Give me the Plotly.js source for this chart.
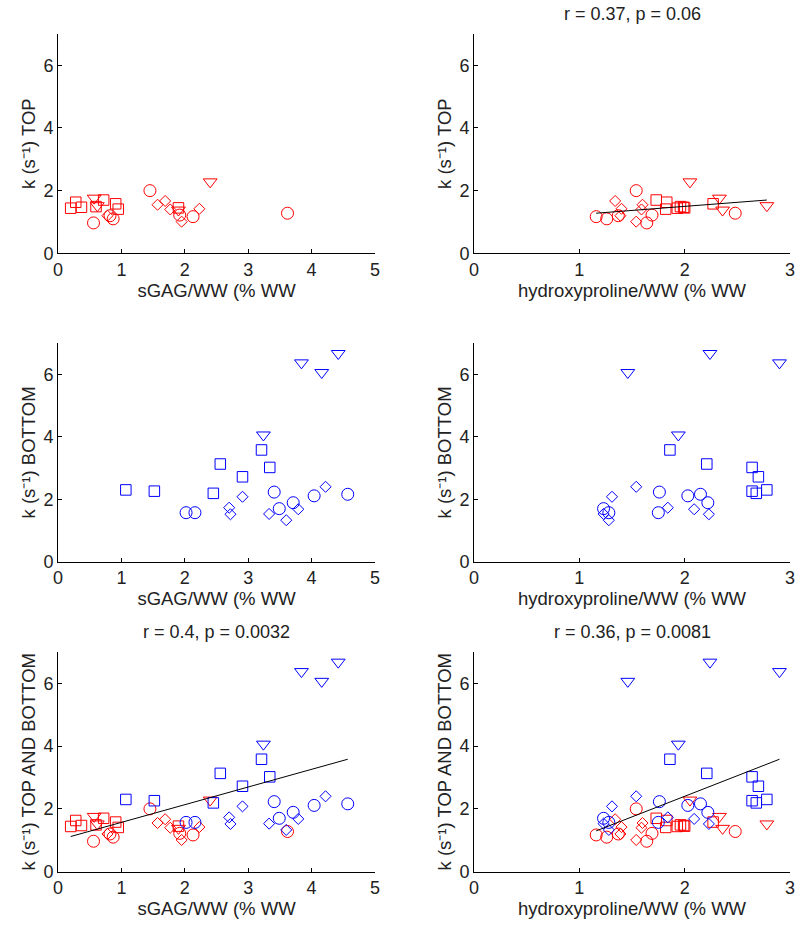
<!DOCTYPE html>
<html>
<head>
<meta charset="utf-8">
<script src="https://cdn.plot.ly/plotly-3.0.1.min.js"></script>
<style>html,body{margin:0;padding:0;background:#fff;}#chart{width:800px;height:932px;}</style>
</head>
<body>
<div id="chart"></div>
<script>
// ---------------- DATA ----------------
// TOP layer (red)
const topCircle_k    = [0.97, 2.00, 1.28, 1.17, 1.22, 1.10, 1.20];
const topCircle_sgag = [0.56, 1.45, 3.62, 2.13, 1.92, 0.87, 0.82];
const topCircle_hyp  = [1.64, 1.54, 2.48, 1.16, 1.69, 1.26, 1.37];

const topSquare_k    = [1.44, 1.63, 1.47, 1.49, 1.70, 1.58, 1.41, 1.45];
const topSquare_sgag = [0.20, 0.28, 0.37, 0.60, 0.72, 0.91, 0.95, 1.90];
const topSquare_hyp  = [1.93, 1.83, 1.99, 1.96, 1.73, 2.27, 1.82, 2.00];

const topDiamond_k    = [1.55, 1.67, 1.40, 1.42, 1.01, 1.20];
const topDiamond_sgag = [1.57, 1.69, 1.77, 2.23, 1.95, 0.78];
const topDiamond_hyp  = [1.60, 1.34, 1.59, 1.40, 1.54, 1.39];

const topTri_k    = [2.28, 1.76, 1.52, 1.38];
const topTri_sgag = [2.40, 0.57, 0.62, 1.90];
const topTri_hyp  = [2.05, 2.33, 2.78, 2.36];

// BOTTOM layer (blue)
const botCircle_k    = [1.57, 1.57, 2.23, 1.70, 1.89, 2.11, 2.16];
const botCircle_sgag = [2.02, 2.16, 3.41, 3.49, 3.71, 4.04, 4.57];
const botCircle_hyp  = [1.28, 1.75, 1.76, 1.23, 2.22, 2.03, 2.15];

const botSquare_k    = [2.30, 2.26, 2.19, 3.13, 2.72, 3.58, 3.02];
const botSquare_sgag = [1.07, 1.52, 2.45, 2.56, 2.91, 3.21, 3.34];
const botSquare_hyp  = [2.78, 2.64, 2.68, 2.21, 2.70, 1.86, 2.64];

const botDiamond_k    = [1.73, 1.52, 2.08, 1.53, 1.33, 1.68, 2.40];
const botDiamond_sgag = [2.70, 2.72, 2.91, 3.33, 3.60, 3.79, 4.22];
const botDiamond_hyp  = [1.84, 2.23, 1.31, 1.23, 1.28, 2.09, 1.54];

const botTri_k    = [6.37, 6.06, 6.67, 4.06];
const botTri_sgag = [3.84, 4.16, 4.42, 3.24];
const botTri_hyp  = [2.90, 1.46, 2.24, 1.94];

// Regression lines (end points)
const fitTopHyp_x = [1.16, 2.78], fitTopHyp_y = [1.28, 1.70];
const fitAllSgag_x = [0.20, 4.57], fitAllSgag_y = [1.12, 3.58];
const fitAllHyp_x = [1.16, 2.90], fitAllHyp_y = [1.30, 3.58];

// Text
const xLabelSgag = 'sGAG/WW (% WW';
const xLabelHyp = 'hydroxyproline/WW (% WW';
const yLabels = ['k (s\u207B\u00B9) TOP', 'k (s\u207B\u00B9) BOTTOM', 'k (s\u207B\u00B9) TOP AND BOTTOM'];
const panelTitles = ['', 'r = 0.37, p = 0.06', '', '', 'r = 0.4, p = 0.0032', 'r = 0.36, p = 0.0081'];
const yTicks = [0, 2, 4, 6];

// ---------------- STYLE ----------------
const FONT = 'Liberation Sans, Arial, Helvetica, sans-serif';
const RED = '#ff0000', BLUE = '#0000ff';
const SYM = {circle: ['circle-open', 12], square: ['square-open', 10.5], diamond: ['diamond-open', 8.5], tri: ['triangle-down-open', 12]};

function pts(x, y, kind, color, n) {
  return {type: 'scatter', mode: 'markers', x: x, y: y, xaxis: 'x' + n, yaxis: 'y' + n,
    marker: {symbol: SYM[kind][0], size: SYM[kind][1], color: color, line: {width: 1, color: color}},
    showlegend: false, hoverinfo: 'skip', cliponaxis: false};
}
function fit(x, y, n) {
  return {type: 'scatter', mode: 'lines', x: x, y: y, xaxis: 'x' + n, yaxis: 'y' + n,
    line: {color: '#000', width: 1}, showlegend: false, hoverinfo: 'skip'};
}
function topSet(useHyp, n) {
  return [
    pts(useHyp ? topCircle_hyp : topCircle_sgag, topCircle_k, 'circle', RED, n),
    pts(useHyp ? topSquare_hyp : topSquare_sgag, topSquare_k, 'square', RED, n),
    pts(useHyp ? topDiamond_hyp : topDiamond_sgag, topDiamond_k, 'diamond', RED, n),
    pts(useHyp ? topTri_hyp : topTri_sgag, topTri_k, 'tri', RED, n)
  ];
}
function botSet(useHyp, n) {
  return [
    pts(useHyp ? botCircle_hyp : botCircle_sgag, botCircle_k, 'circle', BLUE, n),
    pts(useHyp ? botSquare_hyp : botSquare_sgag, botSquare_k, 'square', BLUE, n),
    pts(useHyp ? botDiamond_hyp : botDiamond_sgag, botDiamond_k, 'diamond', BLUE, n),
    pts(useHyp ? botTri_hyp : botTri_sgag, botTri_k, 'tri', BLUE, n)
  ];
}

const traces = [].concat(
  topSet(false, 1),
  topSet(true, 2), [fit(fitTopHyp_x, fitTopHyp_y, 2)],
  botSet(false, 3),
  botSet(true, 4),
  topSet(false, 5), botSet(false, 5), [fit(fitAllSgag_x, fitAllSgag_y, 5)],
  topSet(true, 6), botSet(true, 6), [fit(fitAllHyp_x, fitAllHyp_y, 6)]
);

// geometry (pixels -> paper)
const W = 800, H = 932;
const colX = [[58, 375], [474, 790]];
const rowY = [[34, 253.3], [343.2, 561.7], [651.8, 871.7]];

const layout = {
  width: W, height: H, margin: {l: 0, r: 0, t: 0, b: 0},
  paper_bgcolor: '#fff', plot_bgcolor: '#fff',
  font: {family: FONT, size: 18, color: '#000'},
  showlegend: false, annotations: []
};

for (let i = 0; i < 6; i++) {
  const n = i + 1, r = Math.floor(i / 2), c = i % 2;
  const isHyp = c === 1;
  const xd = [colX[c][0] / W, colX[c][1] / W];
  const yd = [1 - rowY[r][1] / H, 1 - rowY[r][0] / H];
  const sfx = n === 1 ? '' : n;
  layout['xaxis' + sfx] = {
    domain: xd, anchor: 'y' + n, range: isHyp ? [0, 3] : [0, 5], dtick: 1, tick0: 0,
    showline: true, linecolor: '#000', linewidth: 1, mirror: false,
    ticks: 'inside', ticklen: 4, tickwidth: 1, tickcolor: '#000',
    showgrid: false, zeroline: false, fixedrange: true,
    tickfont: {family: FONT, size: 18, color: '#222'},
    title: {text: isHyp ? xLabelHyp : xLabelSgag, font: {family: FONT, size: 18.5, color: '#222'}, standoff: 3}
  };
  layout['yaxis' + sfx] = {
    domain: yd, anchor: 'x' + n, range: [0, 7], tickvals: yTicks,
    showline: true, linecolor: '#000', linewidth: 1, mirror: false,
    ticks: 'inside', ticklen: 4, tickwidth: 1, tickcolor: '#000',
    showgrid: false, zeroline: false, fixedrange: true,
    tickfont: {family: FONT, size: 18, color: '#222'},
    title: {text: yLabels[r], font: {family: FONT, size: 18.5, color: '#222'}, standoff: 2}
  };
  if (panelTitles[i]) {
    layout.annotations.push({
      text: panelTitles[i], xref: 'paper', yref: 'paper',
      x: (xd[0] + xd[1]) / 2, y: 1 - (rowY[r][0] - 20) / H,
      xanchor: 'center', yanchor: 'middle', showarrow: false,
      font: {family: FONT, size: 18, color: '#222'}
    });
  }
}

Plotly.newPlot('chart', traces, layout, {staticPlot: true, displayModeBar: false});
</script>
</body>
</html>
